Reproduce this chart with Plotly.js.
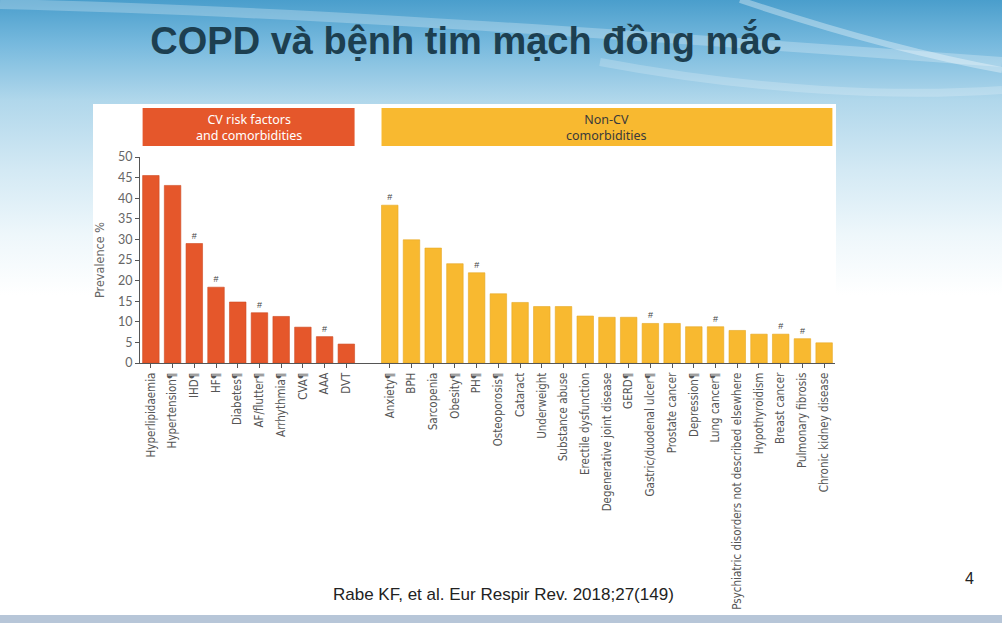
<!DOCTYPE html>
<html>
<head>
<meta charset="utf-8">
<script src="https://cdn.plot.ly/plotly-3.0.1.min.js"></script>
<style>
  html, body { margin:0; padding:0; }
  body {
    width:1002px; height:623px; overflow:hidden; position:relative;
    background: linear-gradient(180deg, #4a9ecc 0px, #78bade 45px, #b0d7eb 100px, #d3e9f4 170px, #eef7fb 235px, #ffffff 295px, #ffffff 623px);
  }
  #swoosh { position:absolute; left:0; top:0; }
  #panel { position:absolute; left:93px; top:104px; width:743px; height:420px; background:#ffffff; }
  #footer { position:absolute; left:0; top:615px; width:1002px; height:8px; background:#b7c6d8; }
  #chart { position:absolute; left:0; top:0; width:1002px; height:623px; }
</style>
</head>
<body>
<svg id="swoosh" width="1002" height="300">
  <path d="M 0 4 C 250 10, 500 25, 1002 62" stroke="rgba(255,255,255,0.25)" stroke-width="10" fill="none"/>
  <path d="M 740 0 C 830 30, 920 55, 1002 70" stroke="rgba(255,255,255,0.35)" stroke-width="6" fill="none"/>
  <path d="M 600 62 C 760 92, 900 97, 1002 90" stroke="rgba(255,255,255,0.2)" stroke-width="8" fill="none"/>
</svg>
<div id="panel"></div>
<div id="footer"></div>
<div id="chart"></div>
<script>
// ---- data ----
var cvCategories = ["Hyperlipidaemia", "Hypertension¶", "IHD¶", "HF¶", "Diabetes¶", "AF/flutter¶", "Arrhythmia¶", "CVA¶", "AAA", "DVT"];
var cvValues = [45.5, 43.1, 29.0, 18.4, 14.8, 12.2, 11.3, 8.7, 6.4, 4.6];
var cvMarks = ["", "", "#", "#", "", "#", "", "", "#", ""];

var nonCvCategories = ["Anxiety¶", "BPH", "Sarcopenia", "Obesity¶", "PH¶", "Osteoporosis¶", "Cataract", "Underweight", "Substance abuse", "Erectile dysfunction", "Degenerative joint disease", "GERD¶", "Gastric/duodenal ulcer¶", "Prostate cancer", "Depression¶", "Lung cancer¶", "Psychiatric disorders not described elsewhere", "Hypothyroidism", "Breast cancer", "Pulmonary fibrosis", "Chronic kidney disease"];
var nonCvValues = [38.3, 29.9, 27.9, 24.1, 21.9, 16.8, 14.7, 13.7, 13.7, 11.4, 11.1, 11.1, 9.6, 9.6, 8.8, 8.8, 7.9, 7.0, 7.0, 5.9, 4.9];
var nonCvMarks = ["#", "", "", "", "#", "", "", "", "", "", "", "", "#", "", "", "#", "", "", "#", "#", ""];

var yTickValues = [0, 5, 10, 15, 20, 25, 30, 35, 40, 45, 50];
var groupTitles = ["CV risk factors<br>and comorbidities", "Non-CV<br>comorbidities"];
var slideTitle = "COPD và bệnh tim mạch đồng mắc";
var citation = "Rabe KF, et al. Eur Respir Rev. 2018;27(149)";
var pageNumber = "4";

// ---- positions (one empty slot between the two groups) ----
var cvX = cvCategories.map(function (_, i) { return i; });
var gapSlots = 1;
var nonCvX = nonCvCategories.map(function (_, i) { return cvCategories.length + gapSlots + i; });
var nSlots = cvCategories.length + gapSlots + nonCvCategories.length;

// plot area in pixels
var W = 1002, H = 623;
var L = 140, R = 835, T = 157, B = 363;
function pxX(px) { return (px - L) / (R - L); }
function pxY(py) { return (B - py) / (B - T); }
function dataXtoPaper(v) { return (v + 0.5) / nSlots; }

var barWidth = 0.76;
var orange = "#E5572B";
var yellow = "#F8B930";
var narrowFont = "Liberation Sans Narrow, Arial Narrow, DejaVu Sans Condensed, sans-serif";
var roundFont = "Lato, Noto Sans, sans-serif";
var headerFont = "Noto Sans, DejaVu Sans, sans-serif";

var traces = [
  {
    type: "bar", x: cvX, y: cvValues, width: barWidth,
    marker: { color: orange, line: { color: "#cf4a22", width: 0.6 } },
    text: cvMarks, textposition: "outside", cliponaxis: false,
    textfont: { size: 9, color: "#444", family: "Liberation Sans, Arial, sans-serif" },
    constraintext: "none", hoverinfo: "skip", showlegend: false
  },
  {
    type: "bar", x: nonCvX, y: nonCvValues, width: barWidth,
    marker: { color: yellow, line: { color: "#e6a823", width: 0.6 } },
    text: nonCvMarks, textposition: "outside", cliponaxis: false,
    textfont: { size: 9, color: "#444", family: "Liberation Sans, Arial, sans-serif" },
    constraintext: "none", hoverinfo: "skip", showlegend: false
  }
];

var boxLeftX0 = dataXtoPaper(cvX[0] - barWidth / 2);
var boxLeftX1 = dataXtoPaper(cvX[cvX.length - 1] + barWidth / 2);
var boxRightX0 = dataXtoPaper(nonCvX[0] - barWidth / 2);
var boxRightX1 = dataXtoPaper(nonCvX[nonCvX.length - 1] + barWidth / 2);
var boxY0 = pxY(146), boxY1 = pxY(108);

var layout = {
  width: W, height: H,
  margin: { l: L, r: W - R, t: T, b: H - B, pad: 0 },
  paper_bgcolor: "rgba(0,0,0,0)",
  plot_bgcolor: "rgba(0,0,0,0)",
  barmode: "overlay",
  title: {
    text: slideTitle,
    x: 466 / W, xanchor: "center", xref: "container",
    y: 1 - 41 / H, yanchor: "middle", yref: "container",
    font: { family: "Liberation Sans, Arial, sans-serif", size: 38, weight: 700, color: "#1d3f50" }
  },
  xaxis: {
    range: [-0.5, nSlots - 0.5],
    tickmode: "array",
    tickvals: cvX.concat(nonCvX),
    ticktext: cvCategories.concat(nonCvCategories),
    tickangle: -90,
    ticks: "outside", ticklen: 4, tickcolor: "#555", tickwidth: 1,
    showline: true, linecolor: "#555", linewidth: 1,
    showgrid: false, zeroline: false, fixedrange: true,
    tickfont: { family: narrowFont, size: 11.5, color: "#555" },
    automargin: false
  },
  yaxis: {
    range: [0, 50],
    tickmode: "array", tickvals: yTickValues,
    ticks: "outside", ticklen: 4, tickcolor: "#555", tickwidth: 1,
    showline: true, linecolor: "#555", linewidth: 1,
    showgrid: false, zeroline: false, fixedrange: true,
    tickfont: { family: roundFont, size: 12.5, color: "#666" },
    title: { text: "Prevalence %", standoff: 10, font: { family: narrowFont, size: 12.5, color: "#666" } },
    automargin: false
  },
  shapes: [
    { type: "rect", xref: "paper", yref: "paper", x0: boxLeftX0, x1: boxLeftX1, y0: boxY0, y1: boxY1,
      fillcolor: orange, line: { width: 0 } },
    { type: "rect", xref: "paper", yref: "paper", x0: boxRightX0, x1: boxRightX1, y0: boxY0, y1: boxY1,
      fillcolor: yellow, line: { width: 0 } }
  ],
  annotations: [
    { xref: "paper", yref: "paper", x: (boxLeftX0 + boxLeftX1) / 2, y: (boxY0 + boxY1) / 2,
      text: groupTitles[0], showarrow: false, xanchor: "center", yanchor: "middle",
      font: { family: headerFont, size: 12.5, color: "#ffffff" } },
    { xref: "paper", yref: "paper", x: (boxRightX0 + boxRightX1) / 2, y: (boxY0 + boxY1) / 2,
      text: groupTitles[1], showarrow: false, xanchor: "center", yanchor: "middle",
      font: { family: headerFont, size: 12.5, color: "#3a3a3a" } },
    { xref: "paper", yref: "paper", x: pxX(503), y: pxY(594),
      text: citation, showarrow: false, xanchor: "center", yanchor: "middle",
      font: { family: "Liberation Sans, Arial, sans-serif", size: 17, color: "#222" } },
    { xref: "paper", yref: "paper", x: pxX(969), y: pxY(578),
      text: pageNumber, showarrow: false, xanchor: "center", yanchor: "middle",
      font: { family: "Liberation Sans, Arial, sans-serif", size: 16, color: "#222" } }
  ]
};

Plotly.newPlot("chart", traces, layout, { displayModeBar: false, staticPlot: true });
</script>
</body>
</html>
